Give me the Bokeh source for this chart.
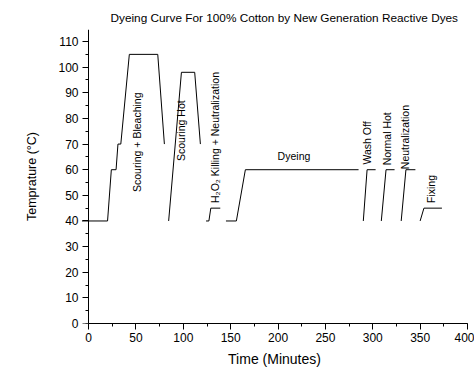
import math
from bokeh.plotting import figure
from bokeh.models import SingleIntervalTicker, Range1d, LinearAxis
from bokeh.core.properties import value
from bokeh.embed import file_html
from bokeh.resources import INLINE

TITLE = "Dyeing Curve For 100% Cotton by New Generation Reactive Dyes"
X_LABEL = "Time (Minutes)"
Y_LABEL = "Temprature (°C)"

# Dyeing curve stages: time (minutes) and temperature (°C)
bleach_time = [-7, 20, 24, 29, 31, 34, 43, 73, 80]
bleach_temp = [40, 40, 60, 60, 70, 70, 105, 105, 70]
scour_hot_time = [84.5, 98, 112, 118]
scour_hot_temp = [40, 98, 98, 70]
h2o2_time = [124, 127, 129, 139]
h2o2_temp = [40, 40, 45, 45]
dyeing_time = [145, 156, 165.5, 285]
dyeing_temp = [40, 40, 60, 60]
wash_time = [290, 294, 303]
wash_temp = [40, 60, 60]
normal_hot_time = [309, 314, 323]
normal_hot_temp = [40, 60, 60]
neutral_time = [330, 335, 345]
neutral_temp = [40, 60, 60]
fixing_time = [350, 354, 373]
fixing_temp = [40, 45, 45]

segments = [
    (bleach_time, bleach_temp),
    (scour_hot_time, scour_hot_temp),
    (h2o2_time, h2o2_temp),
    (dyeing_time, dyeing_temp),
    (wash_time, wash_temp),
    (normal_hot_time, normal_hot_temp),
    (neutral_time, neutral_temp),
    (fixing_time, fixing_temp),
]

# Stage labels (vertical, reading upward) and their anchor (start) positions
v_labels = ["Scouring + Bleaching", "Scouring Hot", "H\u2082O\u2082 Killing + Neutralization",
            "Wash Off", "Normal Hot", "Neutralization", "Fixing"]
v_label_x = [51.6, 98, 133, 294, 314.5, 334.3, 361]
v_label_y = [51.3, 63.4, 47, 62, 61.7, 60.2, 47]
h_labels = ["Dyeing"]
h_label_x = [216.8]
h_label_y = [65.2]

FONT = "Liberation Sans"

p = figure(width=474, height=370,
           x_range=Range1d(-7.5, 400), y_range=Range1d(0, 114.7),
           output_backend="svg", toolbar_location=None,
           y_axis_location=None,
           min_border_left=81, min_border_right=7,
           min_border_top=29, min_border_bottom=47)

p.background_fill_color = "white"
p.border_fill_color = "white"
p.outline_line_color = None
p.xgrid.visible = False
p.ygrid.visible = False

for t, temp in segments:
    p.line(t, temp, line_color="black", line_width=1)

p.text(x=v_label_x, y=v_label_y, text=v_labels, angle=math.pi / 2,
       text_align="left", text_baseline="middle",
       text_font=value(FONT), text_font_size="10.5px", text_color="black")
p.text(x=h_label_x, y=h_label_y, text=h_labels,
       text_align="center", text_baseline="middle",
       text_font=value(FONT), text_font_size="10.5px", text_color="black")

# Title
p.title.text = TITLE
p.title.text_font = FONT
p.title.text_font_size = "11.8px"
p.title.text_font_style = "normal"
p.title.align = "left"
p.title.offset = 29
p.title.text_color = "black"

# y axis: labels on the frame edge, line + ticks at time 0
y_ticker = SingleIntervalTicker(interval=10, num_minor_ticks=2)
label_axis = LinearAxis(ticker=y_ticker, axis_line_color=None,
                        major_tick_line_color=None, minor_tick_line_color=None,
                        major_tick_in=0, major_tick_out=0,
                        minor_tick_in=0, minor_tick_out=0)
line_axis = LinearAxis(ticker=y_ticker, fixed_location=0)
p.add_layout(label_axis, "left")
p.add_layout(line_axis, "left")

for ax in (p.xaxis[0], line_axis, label_axis):
    ax.major_label_text_font = FONT
    ax.major_label_text_font_size = "12px"
    ax.major_label_text_color = "black"
    ax.axis_label_text_font = FONT
    ax.axis_label_text_font_style = "normal"
    ax.axis_label_text_color = "black"

for ax in (p.xaxis[0], line_axis):
    ax.axis_line_color = "black"
    ax.axis_line_width = 1
    ax.major_tick_line_color = "black"
    ax.minor_tick_line_color = "black"
    ax.major_tick_in = 0
    ax.major_tick_out = 6
    ax.minor_tick_in = 0
    ax.minor_tick_out = 3
    ax.major_label_standoff = 3

line_axis.major_label_text_color = None
label_axis.major_label_standoff = 3

p.xaxis[0].ticker = SingleIntervalTicker(interval=50, num_minor_ticks=2)
p.xaxis[0].bounds = (0, 400)
p.xaxis[0].axis_label = X_LABEL
label_axis.axis_label = Y_LABEL
p.xaxis[0].axis_label_text_font_size = "14px"
label_axis.axis_label_text_font_size = "12.5px"
p.xaxis[0].axis_label_standoff = 6
label_axis.axis_label_standoff = 16

open("out.html", "w").write(file_html(p, INLINE))
